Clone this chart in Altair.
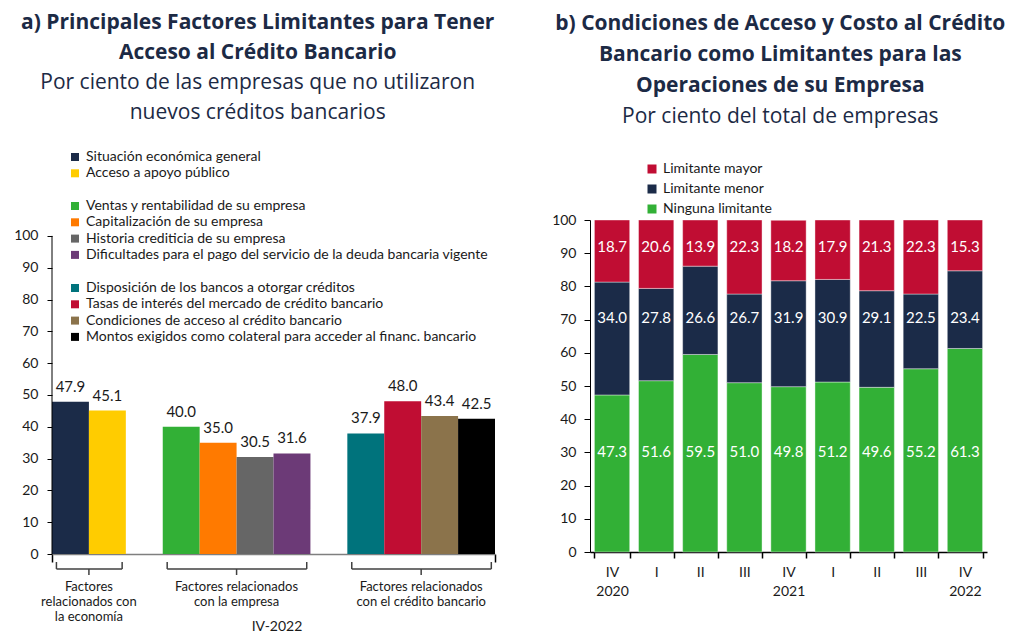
import altair as alt
import pandas as pd

FONT = "Lato"
TFONT = "Open Sans"
TXT = "#1a1a1a"
TITLE_COLOR = "#1c2a45"

# ---------------- Panel a data ----------------
a_group_labels = [
    "Factores\nrelacionados con\nla economía",
    "Factores relacionados\ncon la empresa",
    "Factores relacionados\ncon el crédito bancario",
]
a_factors_1 = ["Situación económica general", "Acceso a apoyo público"]
a_values_1 = [47.9, 45.1]
a_colors_1 = ["#1b2b48", "#ffcc00"]

a_factors_2 = [
    "Ventas y rentabilidad de su empresa",
    "Capitalización de su empresa",
    "Historia crediticia de su empresa",
    "Dificultades para el pago del servicio de la deuda bancaria vigente",
]
a_values_2 = [40.0, 35.0, 30.5, 31.6]
a_colors_2 = ["#32b036", "#ff7a00", "#666666", "#6c3a77"]

a_factors_3 = [
    "Disposición de los bancos a otorgar créditos",
    "Tasas de interés del mercado de crédito bancario",
    "Condiciones de acceso al crédito bancario",
    "Montos exigidos como colateral para acceder al financ. bancario",
]
a_values_3 = [37.9, 48.0, 43.4, 42.5]
a_colors_3 = ["#00737c", "#c00d33", "#8b734b", "#000000"]

a_period = "IV-2022"

# ---------------- Panel b data ----------------
b_quarters = ["IV 2020", "I 2021", "II 2021", "III 2021", "IV 2021",
              "I 2022", "II 2022", "III 2022", "IV 2022"]
b_series = ["Limitante mayor", "Limitante menor", "Ninguna limitante"]
b_colors = ["#c00d33", "#1b2b48", "#32b036"]
b_mayor = [18.7, 20.6, 13.9, 22.3, 18.2, 17.9, 21.3, 22.3, 15.3]
b_menor = [34.0, 27.8, 26.6, 26.7, 31.9, 30.9, 29.1, 22.5, 23.4]
b_ninguna = [47.3, 51.6, 59.5, 51.0, 49.8, 51.2, 49.6, 55.2, 61.3]

# ---------------- Build tables ----------------
groups = [
    (a_factors_1, a_values_1, a_colors_1),
    (a_factors_2, a_values_2, a_colors_2),
    (a_factors_3, a_values_3, a_colors_3),
]
rows, brackets = [], []
slot = 0
for gi, (facs, vals, cols) in enumerate(groups):
    start = slot
    for f, v in zip(facs, vals):
        rows.append(dict(factor=f, value=v, grp=gi, x0=slot, x1=slot + 1))
        slot += 1
    brackets.append(dict(label=a_group_labels[gi], start=start, end=slot))
    slot += 1
n_slots = slot - 1
dfa = pd.DataFrame(rows)
dfb_br = pd.DataFrame(brackets)

W_A, H_A = 443, 334
W_B, H_B = 397, 332

xs_a = alt.Scale(domain=[0, n_slots], nice=False, zero=False)
ys_a = alt.Scale(domain=[0, 105], nice=False)
x_axis_a = alt.Axis(values=[0, n_slots], labels=False, title=None, grid=False,
                    domainColor="#7f7f7f", domainWidth=1.5, tickColor="#000000",
                    tickSize=8, tickWidth=1.5)
y_axis_a = alt.Axis(values=list(range(0, 101, 10)), title=None, grid=False, domain=False,
                    tickColor="#000000", tickSize=5, labelOverlap=False,
                    labelFontSize=14, labelPadding=9, labelColor=TXT, labelFont=FONT)

legend_pos = [-70, -21, 61]


def group_bars(gi):
    facs, vals, cols = groups[gi]
    return alt.Chart(dfa[dfa.grp == gi]).transform_calculate(base="0").mark_bar().encode(
        x=alt.X("x0:Q", scale=xs_a, axis=x_axis_a),
        x2="x1:Q",
        y=alt.Y("value:Q", scale=ys_a, axis=y_axis_a),
        y2="base:Q",
        color=alt.Color("factor:N", scale=alt.Scale(domain=facs, range=cols),
                        legend=alt.Legend(orient="none", legendX=16, legendY=legend_pos[gi],
                                          title=None, symbolType="square",
                                          symbolSize=64, symbolStrokeWidth=0,
                                          labelFont=FONT, labelFontSize=14,
                                          labelColor=TXT, rowPadding=2.3,
                                          labelOffset=4, padding=0, labelLimit=600)),
    )


bars_a = [group_bars(g) for g in range(3)]

y_line_a = alt.Chart(pd.DataFrame({"lo": [0], "hi": [100]})).mark_rule(
    color="#000000", strokeWidth=1
).encode(x=alt.value(0), y=alt.Y("lo:Q", scale=ys_a, axis=y_axis_a), y2="hi:Q")

labels_a = alt.Chart(dfa).transform_calculate(mid="(datum.x0 + datum.x1) / 2").mark_text(
    font=FONT, fontSize=15, color=TXT, baseline="middle", dy=-15
).encode(x=alt.X("mid:Q", scale=xs_a, axis=x_axis_a),
         y=alt.Y("value:Q", scale=ys_a, axis=y_axis_a),
         text=alt.Text("value:Q", format=".1f"))

br_base = alt.Chart(dfb_br).transform_calculate(
    s="datum.start + 0.12", e="datum.end - 0.1", m="(datum.start + datum.end) / 2"
)
BR = "#404040"
br_h = br_base.mark_rule(color=BR, strokeWidth=1.5).encode(
    x=alt.X("s:Q", scale=xs_a, axis=x_axis_a), x2="e:Q", y=alt.value(H_A + 15))
br_l = br_base.mark_rule(color=BR, strokeWidth=1.5).encode(
    x=alt.X("s:Q", scale=xs_a, axis=x_axis_a), y=alt.value(H_A + 8), y2=alt.value(H_A + 15))
br_r = br_base.mark_rule(color=BR, strokeWidth=1.5).encode(
    x=alt.X("e:Q", scale=xs_a, axis=x_axis_a), y=alt.value(H_A + 8), y2=alt.value(H_A + 15))
br_c = br_base.mark_rule(color=BR, strokeWidth=1.5).encode(
    x=alt.X("m:Q", scale=xs_a, axis=x_axis_a), y=alt.value(H_A + 15), y2=alt.value(H_A + 21))
br_t = br_base.mark_text(font=FONT, fontSize=13, color=TXT, lineBreak="\n",
                         baseline="top", lineHeight=15).encode(
    x=alt.X("m:Q", scale=xs_a, axis=x_axis_a), y=alt.value(H_A + 27), text="label:N")
period_t = alt.Chart(pd.DataFrame({"t": [a_period]})).mark_text(
    font=FONT, fontSize=14, color=TXT, baseline="middle"
).encode(x=alt.value(225), y=alt.value(H_A + 73), text="t:N")

chart_a = alt.layer(*bars_a, y_line_a, labels_a, br_h, br_l, br_r, br_c, br_t, period_t).resolve_scale(
    color="independent"
).properties(
    width=W_A, height=H_A,
    title=alt.TitleParams(
        text=["a) Principales Factores Limitantes para Tener", "Acceso al Crédito Bancario"],
        subtitle=["Por ciento de las empresas que no utilizaron", "nuevos créditos bancarios"],
        font=TFONT, subtitleFont=TFONT, fontSize=21, subtitleFontSize=21,
        fontWeight="bold", subtitleFontWeight="normal",
        color=TITLE_COLOR, subtitleColor=TITLE_COLOR,
        lineHeight=30, subtitleLineHeight=30, subtitlePadding=9,
        anchor="middle", frame="bounds", offset=27, dx=3,
    ),
)

# ---------------- Panel b ----------------
recs = []
for i, q in enumerate(b_quarters):
    for s, vals, o in [("Ninguna limitante", b_ninguna, 0),
                       ("Limitante menor", b_menor, 1),
                       ("Limitante mayor", b_mayor, 2)]:
        recs.append(dict(quarter=q, serie=s, value=vals[i], ord=o))
dfb = pd.DataFrame(recs)

xs_b = alt.Scale(domain=b_quarters, paddingInner=0.2, paddingOuter=0.1)
ys_b = alt.Scale(domain=[0, 100], nice=False)
x_axis_b = alt.Axis(title=None, labelAngle=0, tickBand="extent", tickSize=6,
                    domainColor="#000000", tickColor="#000000", domainWidth=1.5,
                    tickWidth=1.5, labelFont=FONT, labelFontSize=14, labelColor=TXT,
                    labelPadding=7, labelLineHeight=19,
                    labelExpr="isValid(datum.value) ? (indexof(datum.value, 'IV') == 0 ? split(datum.value, ' ') : split(datum.value, ' ')[0]) : ''")
y_axis_b = alt.Axis(values=list(range(0, 101, 10)), title=None, grid=False,
                    domainColor="#000000", tickColor="#000000", tickSize=6,
                    labelOverlap=False,
                    labelFontSize=14, labelPadding=8, labelColor=TXT, labelFont=FONT)

bars_b = alt.Chart(dfb).mark_bar(stroke="#ffffff", strokeWidth=0.8, strokeOpacity=0.5).encode(
    x=alt.X("quarter:N", scale=xs_b, axis=x_axis_b, sort=b_quarters),
    y=alt.Y("value:Q", scale=ys_b, axis=y_axis_b, stack="zero"),
    order=alt.Order("ord:Q"),
    color=alt.Color("serie:N", scale=alt.Scale(domain=b_series, range=b_colors),
                    legend=alt.Legend(orient="none", legendX=55, legendY=-58, title=None,
                                      symbolType="square", symbolSize=81,
                                      symbolStrokeWidth=0, labelFont=FONT,
                                      labelFontSize=14, labelColor=TXT, rowPadding=6,
                                      labelOffset=4, padding=0)),
)
labels_b = alt.Chart(dfb).transform_calculate(
    ly="datum.ord == 0 ? 30 : (datum.ord == 1 ? 70.5 : 92)"
).mark_text(font=FONT, fontSize=15, color="#ffffff", baseline="middle").encode(
    x=alt.X("quarter:N", scale=xs_b, axis=x_axis_b, sort=b_quarters),
    y=alt.Y("ly:Q", scale=ys_b, axis=y_axis_b),
    text=alt.Text("value:Q", format=".1f"),
)

chart_b = alt.layer(bars_b, labels_b).properties(
    width=W_B, height=H_B,
    title=alt.TitleParams(
        text=["b) Condiciones de Acceso y Costo al Crédito",
              "Bancario como Limitantes para las", "Operaciones de su Empresa"],
        subtitle=["Por ciento del total de empresas"],
        font=TFONT, subtitleFont=TFONT, fontSize=21, subtitleFontSize=21,
        fontWeight="bold", subtitleFontWeight="normal",
        color=TITLE_COLOR, subtitleColor=TITLE_COLOR,
        lineHeight=31, subtitleLineHeight=31, subtitlePadding=10,
        anchor="middle", frame="bounds", offset=35, dx=11,
    ),
)

chart = alt.hconcat(chart_a, chart_b, spacing=55).resolve_scale(
    color="independent"
).properties(
    padding={"left": 13, "top": 12, "right": 3, "bottom": 3},
    background="white",
).configure_view(stroke=None)

chart.save("out.html", embed_options={"renderer": "svg", "actions": False})
